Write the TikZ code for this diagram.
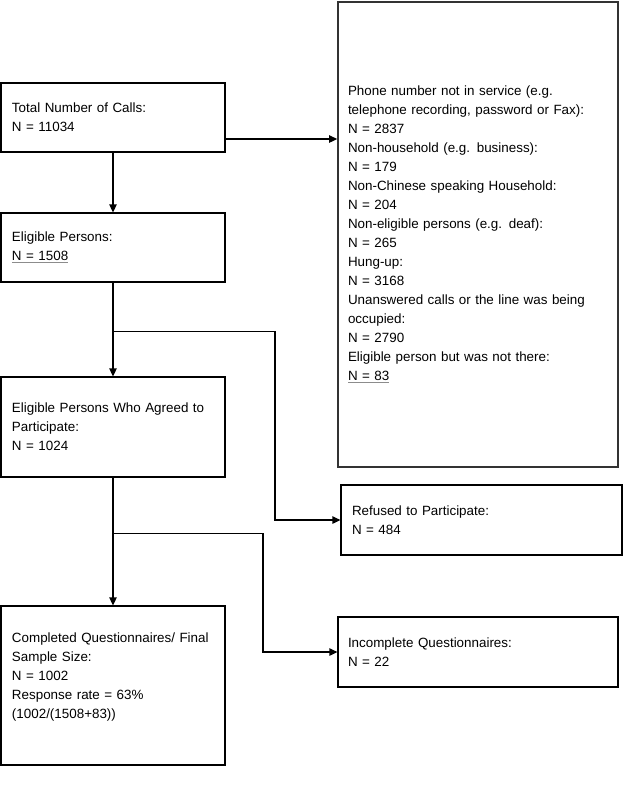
\documentclass[tikz,border=0pt]{standalone}
\usepackage{fontspec}
\setmainfont{Liberation Sans}
\usetikzlibrary{arrows.meta}
\newcommand\grayul[1]{\leavevmode\setbox0\hbox{#1}\rlap{\color{black!45}\rule[-3.2pt]{\wd0}{1.1pt}}\box0}
\tikzset{
  fbox/.style={draw=black, line width=1.3pt, inner xsep=11pt, inner ysep=0pt, align=left,
    font=\fontsize{13.4pt}{19pt}\selectfont},
  arr/.style={line width=1.3pt, -{Triangle[length=8pt,width=7.5pt]}},
  lin/.style={line width=1.3pt}
}
\begin{document}
\begin{tikzpicture}[x=1pt,y=-1pt]
\useasboundingbox (0,0) rectangle (638,796);
\node[fbox, text width=202pt, minimum height=69pt] (total) at (113,117.5)
  {Total Number of Calls:\\N = 11034};
\node[fbox, text width=202pt, minimum height=69pt] (elig) at (113,247.5)
  {Eligible Persons:\\\grayul{N = 1508}};
\node[fbox, text width=202pt, minimum height=100pt] (agreed) at (113,427)
  {Eligible Persons Who Agreed to\\Participate:\\N = 1024};
\node[fbox, text width=202pt, minimum height=159pt] (compl) at (113,685.5)
  {Completed Questionnaires/ Final\\Sample Size:\\N = 1002\\Response rate = 63\%\\(1002/(1508+83))\\\mbox{}};
\node[fbox, draw=black!80, line width=1.8pt, inner xsep=10pt, text width=260pt, minimum height=465pt] (excl) at (478,234.5)
  {Phone number not in service (e.g.\\telephone recording, password or Fax):\\N = 2837\\Non-household (e.g. business):\\N = 179\\Non-Chinese speaking Household:\\N = 204\\Non-eligible persons (e.g. deaf):\\N = 265\\Hung-up:\\N = 3168\\Unanswered calls or the line was being\\occupied:\\N = 2790\\Eligible person but was not there:\\\grayul{N = 83}};
\node[fbox, text width=259pt, minimum height=70pt] (refused) at (481.5,520)
  {Refused to Participate:\\N = 484};
\node[fbox, inner xsep=10pt, text width=260pt, minimum height=70pt] (incompl) at (478,652)
  {Incomplete Questionnaires:\\N = 22};
% connectors
\coordinate (a1) at ([yshift=-21.5pt]total.east);
\draw[arr] (a1) -- (a1 -| excl.west);
\draw[arr] (total.south) -- (elig.north);
\draw[arr] (elig.south) -- (agreed.north);
\coordinate (b1) at ([yshift=-49pt]elig.south);
\coordinate (b2) at ([xshift=162pt]b1);
\draw[arr] (b1) -- (b2) |- (refused.west);
\draw[arr] (agreed.south) -- (compl.north);
\coordinate (c1) at ([yshift=-56pt]agreed.south);
\coordinate (c2) at ([xshift=150pt]c1);
\draw[arr] (c1) -- (c2) |- (incompl.west);
\end{tikzpicture}
\end{document}
